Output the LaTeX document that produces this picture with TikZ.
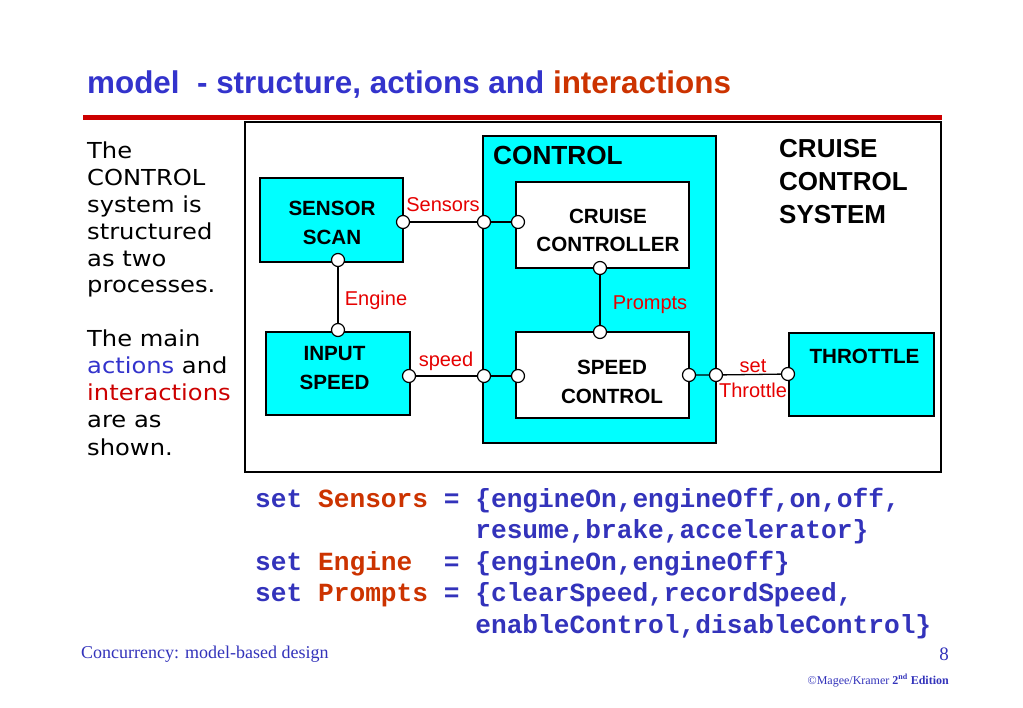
\documentclass[tikz,border=0pt]{standalone}
\usepackage{fontspec}
\setmainfont{Liberation Sans}
\newfontfamily\codefont{Liberation Mono}
\newfontfamily\footfont{Liberation Serif}
\newfontfamily\notefont[FakeStretch=1.1]{DejaVu Sans}
\usepackage{tikz}
\usetikzlibrary{positioning}
\definecolor{titleblue}{RGB}{51,51,204}
\definecolor{titlered}{RGB}{204,51,0}
\definecolor{slideblue}{RGB}{51,51,187}
\definecolor{rulered}{RGB}{204,0,0}
\definecolor{labelred}{RGB}{230,0,0}
\definecolor{boxcyan}{RGB}{0,255,255}
\definecolor{noteblue}{RGB}{51,51,204}
\definecolor{notered}{RGB}{204,0,0}

\begin{document}
\begin{tikzpicture}[x=1pt, y=-1pt,
                   box/.style={draw, line width=1.3pt, inner sep=0pt},
                   cyanbox/.style={box, fill=boxcyan},
                   whitebox/.style={box, fill=white},
                   boxtext/.style={font=\bfseries\fontsize{20.6}{28.5}\selectfont, align=center, inner sep=0pt},
                   bigtext/.style={font=\bfseries\fontsize{26}{33}\selectfont, align=left, inner sep=0pt},
                   port/.style={circle, draw, fill=white, line width=1.2pt, minimum size=13pt, inner sep=0pt},
                   wire/.style={line width=1.3pt},
                   act/.style={text=labelred, font=\fontsize{20}{22}\selectfont, inner sep=0pt, anchor=base},
                   note/.style={font=\notefont\fontsize{22}{27}\selectfont, inner sep=0pt, anchor=base west},
                   code/.style={font=\codefont\bfseries\fontsize{26.2}{31}\selectfont, text=slideblue, inner sep=0pt, anchor=base west}]
  \useasboundingbox[fill=white] (0,0) rectangle (1023,708);

  % heading
  \node[anchor=base west, inner sep=0pt, text=titleblue,
        font=\bfseries\fontsize{31.4}{36}\selectfont] (title) at (87,94)
        {model\ \ - structure, actions and \textcolor{titlered}{interactions}};
  \draw[line width=5pt, rulered] (83,117.5) -- (942,117.5);
  \draw[line width=1.5pt] (245,122) rectangle (941,472);

  % left hand notes
  \foreach \ln [count=\i] in {The, CONTROL, system is, structured, as two, processes.}
    \node[note] (notea\i) at (87,{159+26.8*(\i-1)}) {\ln};
  \foreach \ln [count=\i] in {The main, \textcolor{noteblue}{actions} and,
                              \textcolor{notered}{interactions}, are as, shown.}
    \node[note] (noteb\i) at (87,{347+27*(\i-1)}) {\ln};

  % processes
  \node[cyanbox, minimum width=233pt, minimum height=307pt] (control) at (599.5,289.5) {};
  \node[anchor=west, inner sep=0pt, font=\bfseries\fontsize{26.2}{30}\selectfont] (controltxt) at (493,155) {CONTROL};
  \node[whitebox, minimum width=173pt, minimum height=86pt] (cruise) at (602.5,225) {};
  \node[boxtext] (cruisetxt) at (608,230.5) {CRUISE\\CONTROLLER};
  \node[whitebox, minimum width=173pt, minimum height=86pt] (speedctl) at (602.5,375) {};
  \node[boxtext] (speedctltxt) at (612,382) {SPEED\\CONTROL};
  \node[cyanbox, minimum width=143pt, minimum height=84pt] (sensor) at (331.5,220) {};
  \node[boxtext] (sensortxt) at (332,223) {SENSOR\\SCAN};
  \node[cyanbox, minimum width=144pt, minimum height=83pt] (input) at (338,373.5) {};
  \node[boxtext] (inputtxt) at (334.5,368) {INPUT\\SPEED};
  \node[cyanbox, minimum width=145pt, minimum height=83pt] (throttle) at (861.5,374.5) {};
  \node[boxtext, below=16.5pt of throttle.north, xshift=3pt] (throttletxt) {THROTTLE};
  \node[bigtext, anchor=north west] (systemtxt) at (779,139.5) {CRUISE\\CONTROL\\SYSTEM};

  % ports
  \node[port] (sensR) at (403,222) {};
  \node[port] (sensB) at (338,260) {};
  \node[port] (inT) at (338,330) {};
  \node[port] (inR) at (409,376) {};
  \node[port] (ctlL1) at (484,222) {};
  \node[port] (ctlL2) at (484,376) {};
  \node[port] (ctlR) at (716,375) {};
  \node[port] (cruiseL) at (518,222) {};
  \node[port] (cruiseB) at (600,268) {};
  \node[port] (speedT) at (600,332) {};
  \node[port] (speedL) at (518,376) {};
  \node[port] (speedR) at (689,375) {};
  \node[port] (thrL) at (788,374) {};

  % interactions
  \draw[wire] (sensR) -- (ctlL1) -- (cruiseL);
  \draw[wire] (sensB) -- (inT);
  \draw[wire] (inR) -- (ctlL2) -- (speedL);
  \draw[wire] (cruiseB) -- (speedT);
  \draw[wire] (speedR) -- (ctlR) -- (thrL);

  \node[act, anchor=center] (lblsensors) at (443,205) {Sensors};
  \node[act] (lblengine) at (376,306) {Engine};
  \node[act] (lblprompts) at (650,309.5) {Prompts};
  \node[act] (lblspeed) at (446,367) {speed};
  \node[act] (lblset) at (753,372.5) {set};
  \node[act] (lblthrottle) at (753,398) {Throttle};

  % alphabets
  \foreach \ln [count=\i] in {{set \textcolor{titlered}{Sensors} = \{engineOn,engineOff,on,off,},
                              {\phantom{set Sensors = }resume,brake,accelerator\}},
                              {set \textcolor{titlered}{Engine}\ \ = \{engineOn,engineOff\}},
                              {set \textcolor{titlered}{Prompts} = \{clearSpeed,recordSpeed,},
                              {\phantom{set Prompts = }enableControl,disableControl\}}}
    \node[code] (code\i) at (255,{507+31.5*(\i-1)}) {\ln};

  % footer
  \node[anchor=base west, inner sep=0pt, text=slideblue, font=\footfont\fontsize{18}{20}\selectfont] (foot) at (81,658) {Concurrency: model-based design};
  \node[anchor=base east, inner sep=0pt, text=slideblue, font=\footfont\fontsize{19}{20}\selectfont] (page) at (949,660) {8};
  \node[anchor=base east, inner sep=0pt, text=slideblue, font=\footfont\fontsize{12}{14}\selectfont] (copy) at (949,684) {©Magee/Kramer \textbf{2\textsuperscript{nd} Edition}};
\end{tikzpicture}
\end{document}
